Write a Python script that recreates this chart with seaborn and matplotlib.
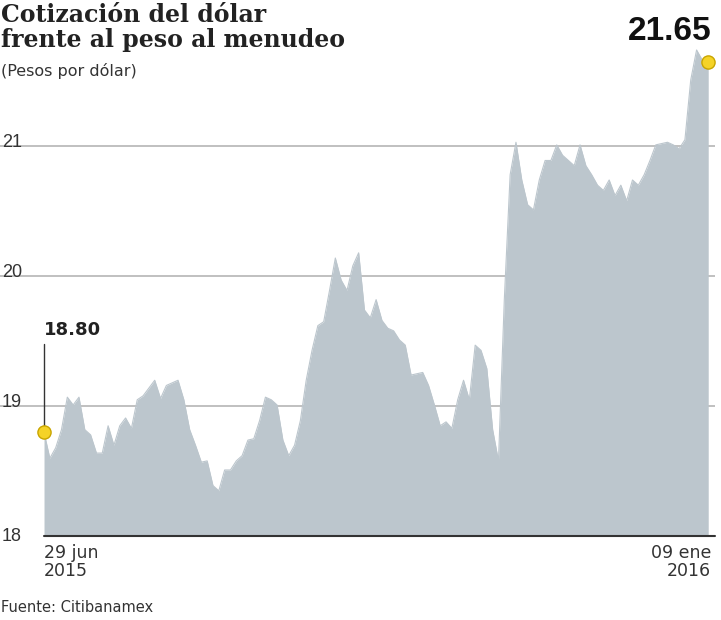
import matplotlib
matplotlib.use("Agg")
import matplotlib.pyplot as plt
import seaborn as sns
import numpy as np
import pandas as pd

# Daily retail peso-dollar rate, 29 jun 2015 -> 09 ene 2016
rates = [
    18.80, 18.60, 18.68, 18.82, 19.07, 19.01, 19.07, 18.82, 18.78, 18.64,
    18.64, 18.85, 18.70, 18.85, 18.91, 18.83, 19.05, 19.08, 19.14, 19.20,
    19.06, 19.16, 19.18, 19.20, 19.05, 18.82, 18.70, 18.57, 18.58, 18.39,
    18.35, 18.51, 18.51, 18.58, 18.62, 18.74, 18.75, 18.89, 19.07, 19.05,
    19.01, 18.74, 18.62, 18.70, 18.89, 19.20, 19.43, 19.62, 19.65, 19.89,
    20.14, 19.97, 19.89, 20.08, 20.18, 19.74, 19.68, 19.82, 19.66, 19.60,
    19.58, 19.51, 19.47, 19.24, 19.25, 19.26, 19.16, 19.01, 18.85, 18.88,
    18.83, 19.05, 19.20, 19.05, 19.47, 19.43, 19.29, 18.82, 18.58, 19.82,
    20.78, 21.03, 20.74, 20.55, 20.51, 20.74, 20.89, 20.89, 21.01, 20.93,
    20.89, 20.85, 21.01, 20.85, 20.78, 20.70, 20.66, 20.74, 20.62, 20.70,
    20.58, 20.74, 20.70, 20.78, 20.89, 21.01, 21.02, 21.03, 21.01, 20.98,
    21.05, 21.51, 21.74, 21.66, 21.65,
]
y_ticks = [18, 19, 20, 21]
start_label = "29 jun\n2015"
end_label = "09 ene\n2016"

df = pd.DataFrame({"idx": np.arange(len(rates)), "rate": rates})
n = len(rates) - 1

sns.set_theme(style="white")
plt.rcParams["font.family"] = ["DejaVu Sans"]

fig = plt.figure(figsize=(7.21, 6.20), dpi=100)
ax = fig.add_axes([0, 0.135, 0.992, 0.839])

step = (708 - 44) / n
x_left = -44 / step
x_right = n + 7 / step
ax.set_xlim(x_left, x_right)
ax.set_ylim(18, 22)

fill = "#bcc6cd"
for t in y_ticks[1:]:
    ax.axhline(t, color="#b5b5b5", lw=1.2, zorder=1)
ax.fill_between(df["idx"], df["rate"], 18, color=fill, lw=0, zorder=2)
sns.lineplot(data=df, x="idx", y="rate", ax=ax, color=fill, lw=0.8, zorder=2)
ax.plot([0, x_right], [18, 18], color="#333333", lw=1.5, zorder=3, clip_on=False)

for t in y_ticks:
    ax.text(x_left + 0.3, t + (0.03 if t > 18 else 0), str(t), fontsize=13,
            color="#333333", ha="left", va="center",
            fontname="Liberation Sans")

# markers
ax.plot([0, 0], [rates[0], 19.48], color="#333333", lw=1, zorder=4)
ax.scatter([0, n], [rates[0], rates[-1]], s=90, color="#f5d327",
           edgecolor="#c9a500", lw=1, zorder=5, clip_on=False)
ax.text(0, 19.52, "18.80", fontsize=13, fontweight="bold", color="#222222",
        ha="left", va="bottom")
ax.text(n + 0.5, 21.76, "21.65", fontsize=24, fontweight="bold", color="#111111",
        ha="right", va="bottom", fontname="Liberation Sans")

ax.set_axis_off()

fig.text(0.002, 0.995, "Cotización del dólar\nfrente al peso al menudeo",
         fontsize=17, fontweight="bold", color="#222222", ha="left", va="top",
         linespacing=1.05, fontname="DejaVu Serif")
fig.text(0.002, 0.885, "(Pesos por dólar)", fontsize=11.5, color="#333333",
         ha="left", va="center")
fig.text(44 / 721, 0.122, start_label, fontsize=12.5, color="#333333",
         ha="left", va="top", linespacing=1.0)
fig.text(711 / 721, 0.122, end_label, fontsize=12.5, color="#333333",
         ha="right", va="top", linespacing=1.0, multialignment="right")
fig.text(0.002, 0.02, "Fuente: Citibanamex", fontsize=10.5, color="#333333",
         ha="left", va="center")

fig.savefig("out.png", dpi=100)
